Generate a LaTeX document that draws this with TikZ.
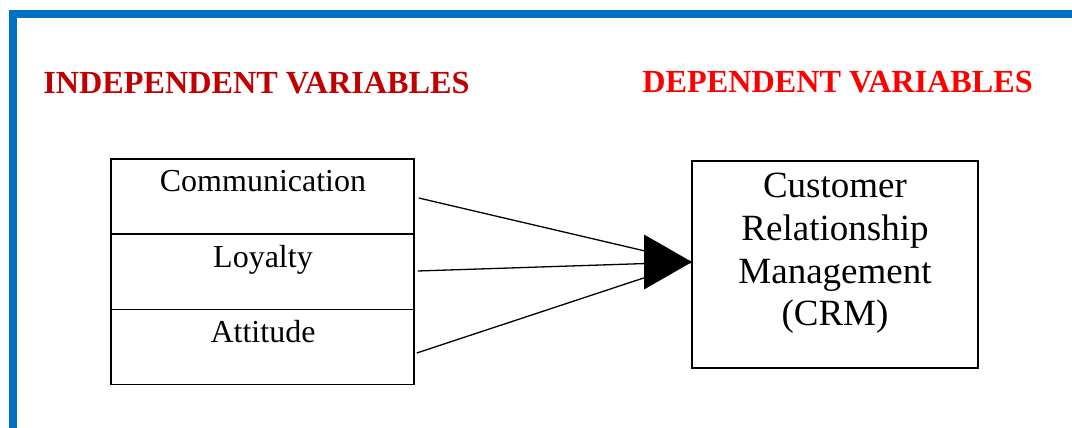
\documentclass[tikz,border=0pt]{standalone}
\usepackage{fontspec}
\setmainfont{Liberation Serif}
\definecolor{frameblue}{RGB}{0,112,192}
\definecolor{darkred}{RGB}{192,0,0}
\definecolor{brightred}{RGB}{255,0,0}
\begin{document}
\begin{tikzpicture}[x=0.5pt,y=-0.5pt,
  cell/.style={draw=black,line width=0.75pt,minimum width=151.5pt,minimum height=37.5pt,inner sep=0pt},
  celltext/.style={anchor=base,inner sep=0pt,font=\fontsize{16}{19}\selectfont},
  heading/.style={anchor=base west,inner sep=0pt,font=\fontsize{16.1}{19}\selectfont\bfseries},
  link/.style={draw=black,line width=0.65pt}]
\useasboundingbox (0,0) rectangle (1072,428);
% blue frame
\draw[frameblue,line width=4.25pt,line join=miter] (12.75,440) -- (12.75,13.75) -- (1080,13.75);
% headings
\node[heading,text=darkred] (hind) at (43,93) {INDEPENDENT VARIABLES};
\node[heading,text=brightred] (hdep) at (642,92) {DEPENDENT VARIABLES};
% left cells
\node[cell] (comm) at (262.5,196.5) {};
\node[cell] (loy) at (262.5,272) {};
\node[cell] (att) at (262.5,347) {};
\node[celltext] (tcomm) at (263,191) {Communication};
\node[celltext] (tloy) at (263,267) {Loyalty};
\node[celltext] (tatt) at (263,342) {Attitude};
% right box
\node[draw=black,line width=0.75pt,minimum width=143pt,minimum height=103.5pt,inner sep=0pt] (crm) at (835,264.5) {};
\node[anchor=north,inner sep=0pt,align=center,font=\fontsize{18.5}{21.3}\selectfont] (tcrm) at (835,173) {Customer\\Relationship\\Management\\(CRM)};
% connectors
\coordinate (tip) at (692,262);
\draw[link] ([shift={(4,1.5)}]comm.east) -- (tip);
\draw[link] ([shift={(3,-1)}]loy.east) -- (tip);
\draw[link] ([shift={(2,6)}]att.east) -- (tip);
\fill[black] (tip) -- ++(-48,-27.5) -- ++(0,55) -- cycle;
\end{tikzpicture}
\end{document}
